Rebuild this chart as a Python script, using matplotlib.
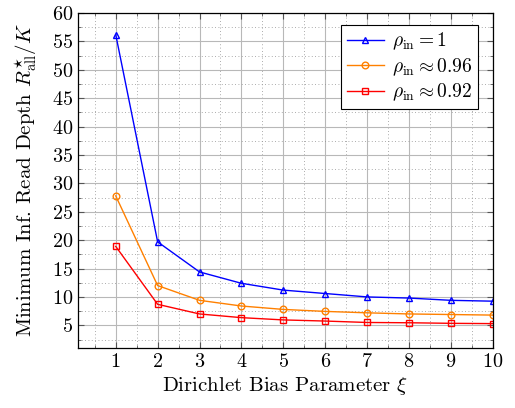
import matplotlib
matplotlib.use("Agg")
import matplotlib.pyplot as plt
from matplotlib.ticker import MultipleLocator

plt.rcParams["font.family"] = "cmr10"
plt.rcParams["mathtext.fontset"] = "cm"
plt.rcParams["axes.formatter.use_mathtext"] = True

# Data
xi = [1, 2, 3, 4, 5, 6, 7, 8, 9, 10]
rho_1 = [56.2, 19.7, 14.4, 12.4, 11.2, 10.6, 10.0, 9.8, 9.4, 9.25]
rho_096 = [27.8, 12.0, 9.4, 8.4, 7.8, 7.45, 7.2, 7.0, 6.9, 6.8]
rho_092 = [18.9, 8.7, 7.0, 6.35, 5.95, 5.75, 5.5, 5.45, 5.35, 5.3]
labels = [r"$\rho_{\mathrm{in}} = 1$", r"$\rho_{\mathrm{in}} \approx 0.96$",
          r"$\rho_{\mathrm{in}} \approx 0.92$"]

fig = plt.figure(figsize=(5.15, 4.08), dpi=100)
ax = fig.add_axes([0.1515, 0.147, 0.8055, 0.821])

ax.plot(xi, rho_1, color="blue", marker="^", markersize=4.5, mfc="none",
        mew=1.0, lw=1.0, label=labels[0])
ax.plot(xi, rho_096, color="#ff8000", marker="o", markersize=4.8, mfc="none",
        mew=1.0, lw=1.0, label=labels[1])
ax.plot(xi, rho_092, color="red", marker="s", markersize=4.5, mfc="none",
        mew=1.0, lw=1.0, label=labels[2])

ax.set_xlim(0.1, 10)
ax.set_ylim(1, 60)
ax.xaxis.set_minor_locator(MultipleLocator(0.5))
ax.yaxis.set_minor_locator(MultipleLocator(2.5))
ax.set_xticks(xi)
ax.set_yticks(range(5, 61, 5))

ax.grid(which="major", color="#b8b8b8", lw=0.8, ls="-")
ax.grid(which="minor", color="#909090", lw=0.6, ls=(0, (1, 3)))
ax.set_axisbelow(True)

ax.tick_params(which="both", direction="in", top=True, right=True,
               labelsize=14.5, color="#555555")
ax.tick_params(which="major", length=4)
ax.tick_params(which="minor", length=2.5)
for s in ax.spines.values():
    s.set_linewidth(0.9)

ax.set_xlabel(r"Dirichlet Bias Parameter $\xi$", fontsize=15, labelpad=3)
ax.set_ylabel(r"Minimum Inf. Read Depth $R^{\star}_{\mathrm{all}}/K$",
              fontsize=15, labelpad=9)

leg = ax.legend(loc="upper right", bbox_to_anchor=(0.964, 0.964), fontsize=14,
                fancybox=False, edgecolor="black", framealpha=1,
                borderaxespad=0, handlelength=1.9, borderpad=0.3,
                labelspacing=0.2, handletextpad=0.4)
leg.get_frame().set_linewidth(0.8)

fig.savefig("out.png", dpi=100)
